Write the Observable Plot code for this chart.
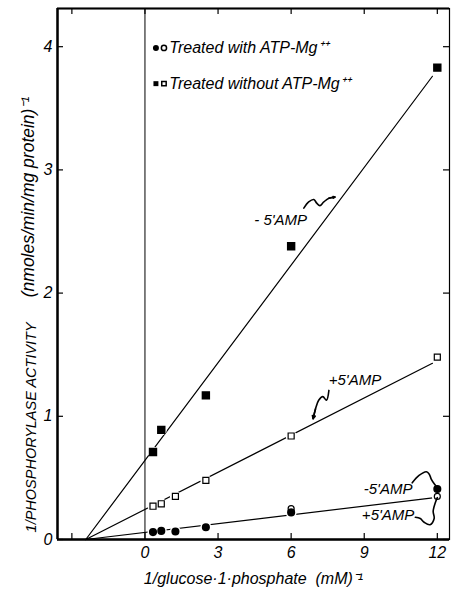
<!DOCTYPE html>
<html><head><meta charset="utf-8">
<script src="https://cdn.jsdelivr.net/npm/d3@7"></script>
<script src="https://cdn.jsdelivr.net/npm/@observablehq/plot@0.6"></script>
<style>
body{margin:0;background:#fff}
svg text{font-style:italic}
</style>
</head><body><div id="chart"></div>
<script>
// 1/[glucose-1-phosphate] (mM^-1)
const invS = [0.33, 0.67, 1.25, 2.5, 6, 12];
// 1/activity values
const withoutAtpMinusAmp = [0.71, 0.89, null, 1.17, 2.38, 3.83]; // filled squares
const withoutAtpPlusAmp  = [0.27, 0.29, 0.35, 0.48, 0.84, 1.48]; // open squares
const withAtpMinusAmp    = [0.06, 0.07, 0.065, 0.10, 0.22, 0.41]; // filled circles
const withAtpPlusAmp     = [null, null, null, null, 0.25, 0.35];  // open circles (visible)

// fitted lines: common x-intercept and end points
const fitX0 = -2.43;
const fitEndX = [11.8, 11.8, 11.9];
const fitEndY = [3.76, 1.43, 0.34];

const xTicks = [-3, 0, 3, 6, 9, 12];
const xTickLabels = [0, 3, 6, 9, 12];
const yTicks = [0, 1, 2, 3, 4];

// annotation labels (data coords)
const annText = ["- 5'AMP", "+5'AMP", "-5'AMP", "+5'AMP"];
const annX = [5.57, 8.62, 9.98, 9.98];
const annY = [2.59, 1.29, 0.405, 0.195];

// legend
const legendText = ["Treated with ATP-Mg\u207A\u207A", "Treated without ATP-Mg\u207A\u207A"];
const legendY = [3.99, 3.70];

// axis titles
const xTitle = "1/glucose\u00B71\u00B7phosphate  (mM)\u207B\u00B9";
const yTitle1 = "1/PHOSPHORYLASE ACTIVITY";
const yTitle2 = "(nmoles/min/mg protein)\u207B\u00B9";

// squiggly pointers (data coords)
const sqA = [[6.52,2.69],[6.72,2.74],[6.93,2.76],[7.05,2.73],[7.18,2.71],[7.34,2.74],[7.55,2.77],[7.8,2.78]];
const sqB = [[7.55,1.21],[7.45,1.13],[7.3,1.16],[7.13,1.13],[7.0,1.06],[6.9,0.98]];
const sqC = [[10.97,0.46],[11.25,0.52],[11.55,0.55],[11.67,0.53],[11.75,0.49],[11.88,0.45],[12.0,0.42]];
const sqD = [[11.1,0.18],[11.3,0.17],[11.46,0.14],[11.7,0.12],[11.87,0.17],[11.83,0.23],[11.92,0.30],[12.0,0.34]];

const W = 451, H = 596;
const mL = 57, mR = 2, mT = 8, mB = 57;
const innerW = W - mL - mR, innerH = H - mT - mB;

const pts = (ys) => invS.map((x, i) => ({x, y: ys[i]})).filter(d => d.y != null);
const fsq = pts(withoutAtpMinusAmp), osq = pts(withoutAtpPlusAmp),
      fci = pts(withAtpMinusAmp), oci = pts(withAtpPlusAmp);
const fits = fitEndX.map((x, i) => [{x: fitX0, y: 0, k: i}, {x, y: fitEndY[i], k: i}]).flat();
const sq = (arr, k) => arr.map(([x, y]) => ({x, y, k}));
const squig = [...sq(sqA, 0), ...sq(sqB, 1), ...sq(sqC, 2), ...sq(sqD, 3)];
const FONT = "Liberation Sans";

const chart = Plot.plot({
  width: W, height: H,
  marginLeft: mL, marginRight: mR, marginTop: mT, marginBottom: mB,
  style: {fontFamily: FONT, background: "#fff", color: "#000"},
  x: {domain: [-3.59, 12.5], axis: null},
  y: {domain: [0, 4.31], axis: null},
  marks: [
    Plot.ruleX([0], {stroke: "#000", strokeWidth: 1}),
    Plot.line(fits, {x: "x", y: "y", z: "k", stroke: "#000", strokeWidth: 1.2}),
    Plot.dot([...fsq, ...osq, ...fci, ...oci], {x: "x", y: "y", r: 5.5, fill: "#fff", stroke: "none"}),
    Plot.dot(fsq, {x: "x", y: "y", symbol: "square", r: 3.9, fill: "#000", stroke: "#000"}),
    Plot.dot(osq, {x: "x", y: "y", symbol: "square", r: 3.4, fill: "#fff", stroke: "#000", strokeWidth: 1.2}),
    Plot.dot(oci, {x: "x", y: "y", r: 3, fill: "#fff", stroke: "#000", strokeWidth: 1.2}),
    Plot.dot(fci, {x: "x", y: "y", r: 3.3, fill: "#000", stroke: "#000"}),
    Plot.line(squig, {x: "x", y: "y", z: "k", curve: "catmull-rom", stroke: "#000", strokeWidth: 1.6}),
    Plot.arrow([{x1: sqA[6][0], y1: sqA[6][1], x2: sqA[7][0], y2: sqA[7][1]},
                {x1: sqB[4][0], y1: sqB[4][1], x2: sqB[5][0], y2: sqB[5][1]}],
      {x1: "x1", y1: "y1", x2: "x2", y2: "y2", stroke: "#000", strokeWidth: 1.6, headLength: 7, headAngle: 50}),
    Plot.text(annText.map((t, i) => ({t, x: annX[i], y: annY[i]})),
      {x: "x", y: "y", text: "t", fontSize: 15, fill: "#000"}),
    Plot.dot([{x: 0.45, y: legendY[0]}], {x: "x", y: "y", r: 3, fill: "#000"}),
    Plot.dot([{x: 0.78, y: legendY[0]}], {x: "x", y: "y", r: 2.6, fill: "#fff", stroke: "#000"}),
    Plot.dot([{x: 0.45, y: legendY[1]}], {x: "x", y: "y", symbol: "square", r: 2.8, fill: "#000"}),
    Plot.dot([{x: 0.78, y: legendY[1]}], {x: "x", y: "y", symbol: "square", r: 2.5, fill: "#fff", stroke: "#000"}),
    Plot.text(legendText.map((t, i) => ({t, x: 1.0, y: legendY[i]})),
      {x: "x", y: "y", text: "t", textAnchor: "start", fontSize: 16, fill: "#000"}),
    Plot.tickX(xTicks, {x: d => d, insetTop: innerH - 6, stroke: "#000", strokeWidth: 1.2}),
    Plot.tickX(xTicks, {x: d => d, insetBottom: innerH - 6, stroke: "#000", strokeWidth: 1.2}),
    Plot.tickY(yTicks, {y: d => d, insetRight: innerW - 6, stroke: "#000", strokeWidth: 1.2}),
    Plot.tickY(yTicks, {y: d => d, insetLeft: innerW - 6, stroke: "#000", strokeWidth: 1.2}),
    Plot.axisX({ticks: xTickLabels, tickSize: 0, tickPadding: 7, fontSize: 16, tickFormat: d3.format("d")}),
    Plot.axisY({ticks: yTicks, tickSize: 0, tickPadding: 5, fontSize: 16, tickFormat: d3.format("d")}),
    Plot.frame({stroke: "#000", strokeWidth: 1.2}),
    Plot.ruleX([-3.59], {stroke: "#000", strokeWidth: 2.5}),
    Plot.ruleY([0], {stroke: "#000", strokeWidth: 2.5}),
    Plot.ruleY([4.31], {stroke: "#000", strokeWidth: 2}),
    Plot.text([xTitle], {frameAnchor: "bottom", dy: 44, fontSize: 16, fill: "#000"}),
    Plot.text([{t: yTitle1, y: 0.91}], {y: "y", text: "t", frameAnchor: "left", textAnchor: "middle", rotate: -90, dx: -26, fontSize: 14.5, fill: "#000"}),
    Plot.text([{t: yTitle2, y: 2.78}], {y: "y", text: "t", frameAnchor: "left", textAnchor: "middle", rotate: -90, dx: -29, fontSize: 17.5, fill: "#000"})
  ]
});
document.getElementById("chart").appendChild(chart);
</script>
</body></html>
